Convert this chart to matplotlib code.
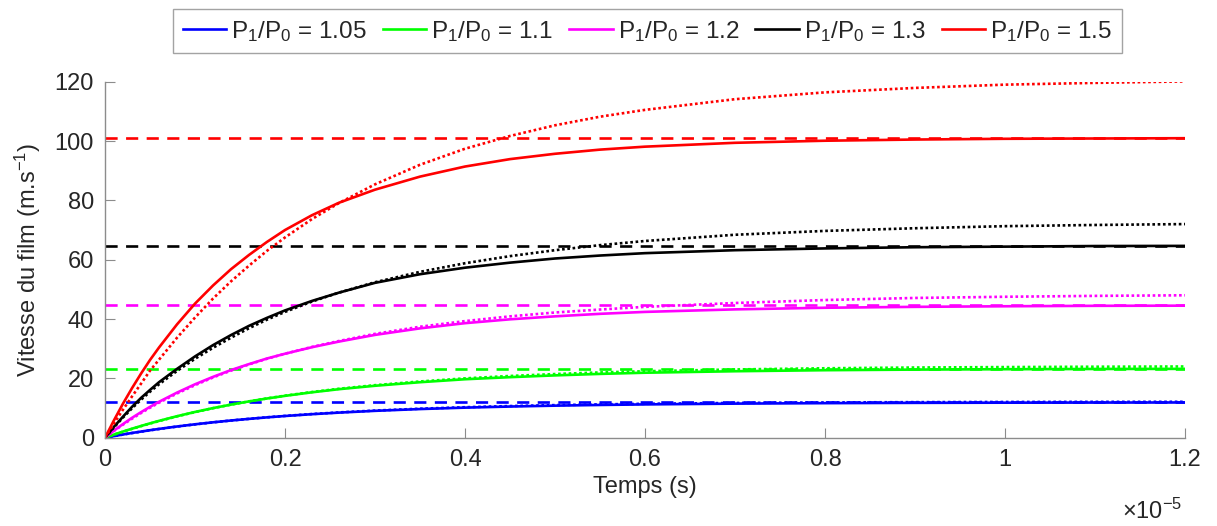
import numpy as np
import matplotlib
matplotlib.use("Agg")
import matplotlib.pyplot as plt

plt.rcParams['font.family'] = ['Liberation Sans', 'DejaVu Sans']
plt.rcParams['mathtext.fontset'] = 'custom'
plt.rcParams['mathtext.rm'] = 'Liberation Sans'
plt.rcParams['mathtext.it'] = 'Liberation Sans'

# time samples, in units of 1e-5 s
t = [0, 0.01, 0.02, 0.03, 0.04, 0.05, 0.06, 0.08, 0.10, 0.12, 0.14, 0.16,
     0.18, 0.2, 0.23, 0.26, 0.3, 0.35, 0.4, 0.45, 0.5, 0.55, 0.6, 0.7,
     0.8, 0.9, 1.0, 1.1, 1.2]

ratios = ["1.05", "1.1", "1.2", "1.3", "1.5"]
colors = ["#0000ff", "#00ff00", "#ff00ff", "#000000", "#ff0000"]

# asymptotic (steady) film speeds, dashed lines
v_limit = [11.9, 23.3, 44.6, 64.7, 101.0]

# solid curves
v_blue = [0, 0.55, 1.08, 1.59, 2.06, 2.52, 2.96, 3.77, 4.51, 5.18, 5.79, 6.34,
          6.85, 7.31, 7.92, 8.45, 9.05, 9.65, 10.13, 10.5, 10.8, 11.03, 11.22,
          11.48, 11.64, 11.74, 11.8, 11.84, 11.87]
v_green = [0, 1.06, 2.07, 3.03, 3.95, 4.83, 5.67, 7.24, 8.67, 9.97, 11.15,
           12.23, 13.21, 14.1, 15.3, 16.35, 17.5, 18.7, 19.7, 20.4, 21.0, 21.5,
           21.9, 22.4, 22.75, 22.95, 23.08, 23.16, 23.2]
v_mag = [0, 2.4, 4.6, 6.7, 8.6, 10.4, 12.1, 15.2, 18.0, 20.5, 22.8, 24.8,
         26.7, 28.3, 30.5, 32.4, 34.65, 36.85, 38.6, 39.9, 40.9, 41.75, 42.4,
         43.25, 43.8, 44.1, 44.3, 44.45, 44.5]
v_black = [0, 3.7, 7.1, 10.4, 13.4, 16.1, 18.7, 23.2, 27.4, 31.2, 34.6, 37.7,
           40.4, 42.9, 46.1, 48.9, 52.2, 55.1, 57.3, 59.0, 60.4, 61.4, 62.2,
           63.2, 63.8, 64.2, 64.4, 64.6, 64.65]
v_red = [0, 5.9, 11.5, 16.7, 21.6, 26.2, 30.4, 38.2, 45.2, 51.3, 56.8, 61.6,
         66.0, 70.0, 75.0, 79.2, 83.6, 88.0, 91.4, 93.9, 95.7, 97.1, 98.1,
         99.4, 100.1, 100.5, 100.75, 100.85, 100.95]

# dotted curves
d_blue = [0, 0.54, 1.06, 1.56, 2.03, 2.49, 2.93, 3.75, 4.49, 5.17, 5.79, 6.35,
          6.87, 7.34, 7.97, 8.52, 9.14, 9.77, 10.27, 10.66, 10.98, 11.23, 11.43,
          11.71, 11.88, 11.98, 12.04, 12.08, 12.1]
d_green = [0, 1.03, 2.02, 2.97, 3.88, 4.76, 5.6, 7.18, 8.62, 9.94, 11.14, 12.24,
           13.25, 14.17, 15.4, 16.5, 17.7, 18.95, 20.0, 20.8, 21.45, 22.0, 22.4,
           23.0, 23.4, 23.65, 23.8, 23.92, 24.0]
d_mag = [0, 2.3, 4.4, 6.4, 8.3, 10.1, 11.8, 14.9, 17.7, 20.3, 22.6, 24.7,
         26.6, 28.3, 30.6, 32.6, 35.0, 37.4, 39.3, 40.9, 42.2, 43.2, 44.1,
         45.4, 46.4, 47.1, 47.5, 47.8, 48.0]
d_black = [0, 3.5, 6.8, 9.9, 12.8, 15.5, 18.0, 22.5, 26.6, 30.3, 33.7, 36.9,
           39.8, 42.4, 45.9, 48.9, 52.4, 55.9, 58.8, 61.2, 63.2, 64.9, 66.3,
           68.4, 69.7, 70.6, 71.3, 71.7, 72.0]
d_red = [0, 4.84, 9.48, 13.9, 18.2, 22.6, 26.3, 33.7, 40.5, 46.9, 52.7, 58.0,
         63.0, 67.5, 73.7, 79.1, 85.4, 92.0, 97.4, 101.7, 105.3, 108.2, 110.5,
         114.1, 116.4, 117.9, 119.0, 119.6, 120.1]

solid = [v_blue, v_green, v_mag, v_black, v_red]
dotted = [d_blue, d_green, d_mag, d_black, d_red]

fig = plt.figure(figsize=(12.17, 5.26), dpi=100)
ax = fig.add_axes([0.0863, 0.1679, 0.8874, 0.6768])

lw = 1.9
for i in range(len(ratios)):
    c = colors[i]
    ax.plot(t, solid[i], color=c, lw=lw, label=f"P$_1$/P$_0$ = {ratios[i]}")
    ax.plot([t[0], t[-1]], [v_limit[i], v_limit[i]], color=c, lw=lw,
            dashes=(4.6, 3.2))
    ax.plot(t, dotted[i], color=c, lw=lw, dashes=(1.0, 1.0))

ax.set_xlim(0, 1.2)
ax.set_ylim(0, 120)
ax.set_xticks([0, 0.2, 0.4, 0.6, 0.8, 1.0, 1.2])
ax.set_xticklabels(["0", "0.2", "0.4", "0.6", "0.8", "1", "1.2"])
ax.set_yticks([0, 20, 40, 60, 80, 100, 120])

for s in ["top", "right"]:
    ax.spines[s].set_visible(False)
for s in ["left", "bottom"]:
    ax.spines[s].set_color("#8c8c8c")
    ax.spines[s].set_linewidth(1.0)
ax.tick_params(direction="in", length=7.5, width=0.8, color="#8c8c8c",
               labelsize=17, labelcolor="#262626", pad=8)

ax.set_xlabel("Temps (s)", fontsize=17, color="#262626", labelpad=4)
ax.set_ylabel("Vitesse du film (m.s$^{-1}$)", fontsize=17, color="#262626",
              labelpad=8)

fig.text(1152 / 1217, 1 - 511 / 526, r"$\times$10$^{-5}$", fontsize=17,
         color="#262626", ha="center", va="center")

leg = fig.legend(loc="upper center", bbox_to_anchor=(0.532, 0.992), ncol=5,
                 fontsize=17.5, frameon=True, fancybox=False, handlelength=1.8,
                 handletextpad=0.2, columnspacing=0.65, borderpad=0.4,
                 borderaxespad=0.2)
leg.get_frame().set_edgecolor("#8c8c8c")
leg.get_frame().set_linewidth(1.0)
for txt in leg.get_texts():
    txt.set_color("#262626")

fig.savefig("out.png", dpi=100)
